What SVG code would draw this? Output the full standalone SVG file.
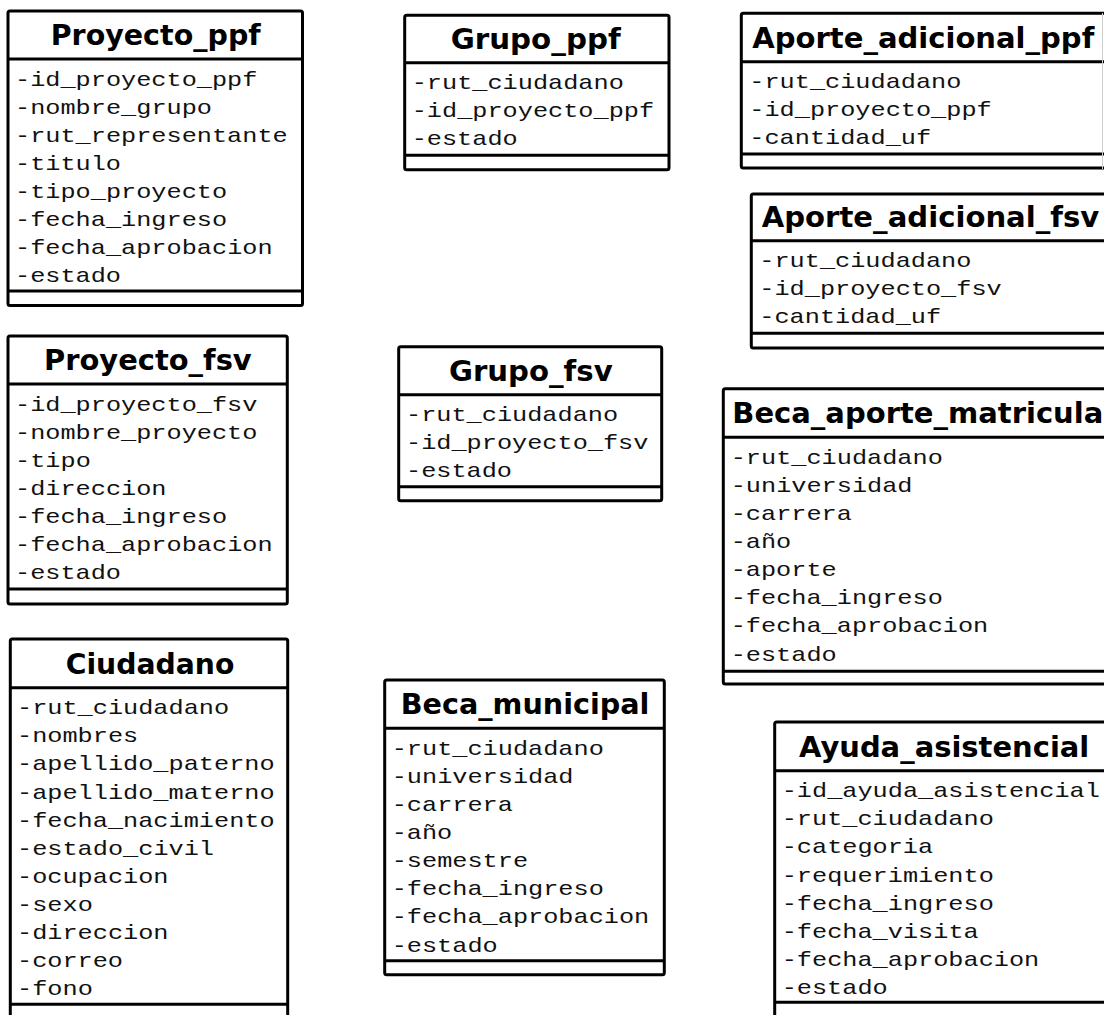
<svg xmlns="http://www.w3.org/2000/svg" width="1104" height="1015" viewBox="0 0 1104 1015">
<style>
.box{fill:#fff;stroke:#000;stroke-width:3}
.dv{stroke:#000;stroke-width:3}
.t{font-family:"DejaVu Sans",Verdana,sans-serif;font-weight:bold;font-size:29px;fill:#000}
.a{font-family:"Liberation Mono","Courier New",monospace;font-size:21px;fill:#111}
</style>
<rect width="1104" height="1015" fill="#fff"/>
<g id="connectors"></g>

<g id="proyecto_ppf">
<rect class="box" x="8" y="11" width="294.5" height="294.5" rx="2"/>
<line class="dv" x1="8" y1="59" x2="302.5" y2="59"/>
<line class="dv" x1="8" y1="291" x2="302.5" y2="291"/>
<text class="t" x="50.7" y="45" textLength="210" lengthAdjust="spacingAndGlyphs">Proyecto_ppf</text>
<text class="a" x="15" y="85.5" textLength="242.4" lengthAdjust="spacingAndGlyphs">-id_proyecto_ppf</text>
<text class="a" x="15" y="113.6" textLength="197" lengthAdjust="spacingAndGlyphs">-nombre_grupo</text>
<text class="a" x="15" y="141.7" textLength="272.7" lengthAdjust="spacingAndGlyphs">-rut_representante</text>
<text class="a" x="15" y="169.8" textLength="106" lengthAdjust="spacingAndGlyphs">-titulo</text>
<text class="a" x="15" y="197.9" textLength="212.1" lengthAdjust="spacingAndGlyphs">-tipo_proyecto</text>
<text class="a" x="15" y="226" textLength="212.1" lengthAdjust="spacingAndGlyphs">-fecha_ingreso</text>
<text class="a" x="15" y="254.1" textLength="257.6" lengthAdjust="spacingAndGlyphs">-fecha_aprobacion</text>
<text class="a" x="15" y="282.2" textLength="106" lengthAdjust="spacingAndGlyphs">-estado</text>
</g>

<g id="grupo_ppf">
<rect class="box" x="404.7" y="15.3" width="264.3" height="154.4" rx="2"/>
<line class="dv" x1="404.7" y1="62.7" x2="669" y2="62.7"/>
<line class="dv" x1="404.7" y1="155.3" x2="669" y2="155.3"/>
<text class="t" x="450.7" y="48.7" textLength="170" lengthAdjust="spacingAndGlyphs">Grupo_ppf</text>
<text class="a" x="411.7" y="89.2" textLength="212.1" lengthAdjust="spacingAndGlyphs">-rut_ciudadano</text>
<text class="a" x="411.7" y="117.3" textLength="242.4" lengthAdjust="spacingAndGlyphs">-id_proyecto_ppf</text>
<text class="a" x="411.7" y="145.4" textLength="106" lengthAdjust="spacingAndGlyphs">-estado</text>
</g>

<g id="aporte_adicional_ppf">
<rect class="box" x="741.3" y="13.3" width="420" height="154.7" rx="2"/>
<line class="dv" x1="741.3" y1="61.7" x2="1161.3" y2="61.7"/>
<line class="dv" x1="741.3" y1="154" x2="1161.3" y2="154"/>
<line x1="1102.5" y1="13" x2="1102.5" y2="169" stroke="#cfcfcf" stroke-width="1"/>
<text class="t" x="752.3" y="47.7" textLength="342" lengthAdjust="spacingAndGlyphs">Aporte_adicional_ppf</text>
<text class="a" x="749.3" y="88.2" textLength="212.1" lengthAdjust="spacingAndGlyphs">-rut_ciudadano</text>
<text class="a" x="749.3" y="116.3" textLength="242.4" lengthAdjust="spacingAndGlyphs">-id_proyecto_ppf</text>
<text class="a" x="749.3" y="144.4" textLength="181.8" lengthAdjust="spacingAndGlyphs">-cantidad_uf</text>
</g>

<g id="aporte_adicional_fsv">
<rect class="box" x="751.3" y="194" width="420" height="154" rx="2"/>
<line class="dv" x1="751.3" y1="240.7" x2="1171.3" y2="240.7"/>
<line class="dv" x1="751.3" y1="333.3" x2="1171.3" y2="333.3"/>
<text class="t" x="761.7" y="226.7" textLength="337.6" lengthAdjust="spacingAndGlyphs">Aporte_adicional_fsv</text>
<text class="a" x="759.3" y="267.2" textLength="212.1" lengthAdjust="spacingAndGlyphs">-rut_ciudadano</text>
<text class="a" x="759.3" y="295.3" textLength="242.4" lengthAdjust="spacingAndGlyphs">-id_proyecto_fsv</text>
<text class="a" x="759.3" y="323.4" textLength="181.8" lengthAdjust="spacingAndGlyphs">-cantidad_uf</text>
</g>

<g id="proyecto_fsv">
<rect class="box" x="8" y="336" width="279.3" height="268" rx="2"/>
<line class="dv" x1="8" y1="384" x2="287.3" y2="384"/>
<line class="dv" x1="8" y1="589" x2="287.3" y2="589"/>
<text class="t" x="44" y="370" textLength="207.7" lengthAdjust="spacingAndGlyphs">Proyecto_fsv</text>
<text class="a" x="15" y="410.5" textLength="242.4" lengthAdjust="spacingAndGlyphs">-id_proyecto_fsv</text>
<text class="a" x="15" y="438.6" textLength="242.4" lengthAdjust="spacingAndGlyphs">-nombre_proyecto</text>
<text class="a" x="15" y="466.7" textLength="75.8" lengthAdjust="spacingAndGlyphs">-tipo</text>
<text class="a" x="15" y="494.8" textLength="151.5" lengthAdjust="spacingAndGlyphs">-direccion</text>
<text class="a" x="15" y="522.9" textLength="212.1" lengthAdjust="spacingAndGlyphs">-fecha_ingreso</text>
<text class="a" x="15" y="551" textLength="257.6" lengthAdjust="spacingAndGlyphs">-fecha_aprobacion</text>
<text class="a" x="15" y="579.1" textLength="106" lengthAdjust="spacingAndGlyphs">-estado</text>
</g>

<g id="grupo_fsv">
<rect class="box" x="398.7" y="346.7" width="263" height="154" rx="2"/>
<line class="dv" x1="398.7" y1="394.7" x2="661.7" y2="394.7"/>
<line class="dv" x1="398.7" y1="486.7" x2="661.7" y2="486.7"/>
<text class="t" x="449" y="380.7" textLength="163.7" lengthAdjust="spacingAndGlyphs">Grupo_fsv</text>
<text class="a" x="406" y="421.2" textLength="212.1" lengthAdjust="spacingAndGlyphs">-rut_ciudadano</text>
<text class="a" x="406" y="449.3" textLength="242.4" lengthAdjust="spacingAndGlyphs">-id_proyecto_fsv</text>
<text class="a" x="406" y="477.4" textLength="106" lengthAdjust="spacingAndGlyphs">-estado</text>
</g>

<g id="beca_aporte_matricula">
<rect class="box" x="723.3" y="388.7" width="440" height="295.3" rx="2"/>
<line class="dv" x1="723.3" y1="437.3" x2="1163.3" y2="437.3"/>
<line class="dv" x1="723.3" y1="671.3" x2="1163.3" y2="671.3"/>
<text class="t" x="732.3" y="423.3" textLength="371" lengthAdjust="spacingAndGlyphs">Beca_aporte_matricula</text>
<text class="a" x="730.7" y="463.8" textLength="212.1" lengthAdjust="spacingAndGlyphs">-rut_ciudadano</text>
<text class="a" x="730.7" y="491.9" textLength="181.8" lengthAdjust="spacingAndGlyphs">-universidad</text>
<text class="a" x="730.7" y="520" textLength="121.2" lengthAdjust="spacingAndGlyphs">-carrera</text>
<text class="a" x="730.7" y="548.1" textLength="60.6" lengthAdjust="spacingAndGlyphs">-año</text>
<text class="a" x="730.7" y="576.2" textLength="106" lengthAdjust="spacingAndGlyphs">-aporte</text>
<text class="a" x="730.7" y="604.3" textLength="212.1" lengthAdjust="spacingAndGlyphs">-fecha_ingreso</text>
<text class="a" x="730.7" y="632.4" textLength="257.6" lengthAdjust="spacingAndGlyphs">-fecha_aprobacion</text>
<text class="a" x="730.7" y="660.5" textLength="106" lengthAdjust="spacingAndGlyphs">-estado</text>
</g>

<g id="ciudadano">
<rect class="box" x="10.3" y="639" width="277.4" height="420" rx="2"/>
<line class="dv" x1="10.3" y1="687.7" x2="287.7" y2="687.7"/>
<line class="dv" x1="10.3" y1="1004.3" x2="287.7" y2="1004.3"/>
<text class="t" x="65.7" y="673.7" textLength="168.7" lengthAdjust="spacingAndGlyphs">Ciudadano</text>
<text class="a" x="17" y="714.2" textLength="212.1" lengthAdjust="spacingAndGlyphs">-rut_ciudadano</text>
<text class="a" x="17" y="742.3" textLength="121.2" lengthAdjust="spacingAndGlyphs">-nombres</text>
<text class="a" x="17" y="770.4" textLength="257.6" lengthAdjust="spacingAndGlyphs">-apellido_paterno</text>
<text class="a" x="17" y="798.5" textLength="257.6" lengthAdjust="spacingAndGlyphs">-apellido_materno</text>
<text class="a" x="17" y="826.6" textLength="257.6" lengthAdjust="spacingAndGlyphs">-fecha_nacimiento</text>
<text class="a" x="17" y="854.7" textLength="197" lengthAdjust="spacingAndGlyphs">-estado_civil</text>
<text class="a" x="17" y="882.8" textLength="151.5" lengthAdjust="spacingAndGlyphs">-ocupacion</text>
<text class="a" x="17" y="910.9" textLength="75.8" lengthAdjust="spacingAndGlyphs">-sexo</text>
<text class="a" x="17" y="939" textLength="151.5" lengthAdjust="spacingAndGlyphs">-direccion</text>
<text class="a" x="17" y="967.1" textLength="106" lengthAdjust="spacingAndGlyphs">-correo</text>
<text class="a" x="17" y="995.2" textLength="75.8" lengthAdjust="spacingAndGlyphs">-fono</text>
</g>

<g id="beca_municipal">
<rect class="box" x="384.7" y="680" width="279.6" height="294.7" rx="2"/>
<line class="dv" x1="384.7" y1="728.3" x2="664.3" y2="728.3"/>
<line class="dv" x1="384.7" y1="960.7" x2="664.3" y2="960.7"/>
<text class="t" x="400.7" y="714.3" textLength="248.7" lengthAdjust="spacingAndGlyphs">Beca_municipal</text>
<text class="a" x="391.7" y="754.8" textLength="212.1" lengthAdjust="spacingAndGlyphs">-rut_ciudadano</text>
<text class="a" x="391.7" y="782.9" textLength="181.8" lengthAdjust="spacingAndGlyphs">-universidad</text>
<text class="a" x="391.7" y="811" textLength="121.2" lengthAdjust="spacingAndGlyphs">-carrera</text>
<text class="a" x="391.7" y="839.1" textLength="60.6" lengthAdjust="spacingAndGlyphs">-año</text>
<text class="a" x="391.7" y="867.2" textLength="136.4" lengthAdjust="spacingAndGlyphs">-semestre</text>
<text class="a" x="391.7" y="895.3" textLength="212.1" lengthAdjust="spacingAndGlyphs">-fecha_ingreso</text>
<text class="a" x="391.7" y="923.4" textLength="257.6" lengthAdjust="spacingAndGlyphs">-fecha_aprobacion</text>
<text class="a" x="391.7" y="951.5" textLength="106" lengthAdjust="spacingAndGlyphs">-estado</text>
</g>

<g id="ayuda_asistencial">
<rect class="box" x="774.7" y="722" width="420" height="420" rx="2"/>
<line class="dv" x1="774.7" y1="770.7" x2="1194.7" y2="770.7"/>
<line class="dv" x1="774.7" y1="1002.3" x2="1194.7" y2="1002.3"/>
<text class="t" x="799" y="756.7" textLength="290.3" lengthAdjust="spacingAndGlyphs">Ayuda_asistencial</text>
<text class="a" x="781.7" y="797.2" textLength="318.2" lengthAdjust="spacingAndGlyphs">-id_ayuda_asistencial</text>
<text class="a" x="781.7" y="825.3" textLength="212.1" lengthAdjust="spacingAndGlyphs">-rut_ciudadano</text>
<text class="a" x="781.7" y="853.4" textLength="151.5" lengthAdjust="spacingAndGlyphs">-categoria</text>
<text class="a" x="781.7" y="881.5" textLength="212.1" lengthAdjust="spacingAndGlyphs">-requerimiento</text>
<text class="a" x="781.7" y="909.6" textLength="212.1" lengthAdjust="spacingAndGlyphs">-fecha_ingreso</text>
<text class="a" x="781.7" y="937.7" textLength="197" lengthAdjust="spacingAndGlyphs">-fecha_visita</text>
<text class="a" x="781.7" y="965.8" textLength="257.6" lengthAdjust="spacingAndGlyphs">-fecha_aprobacion</text>
<text class="a" x="781.7" y="993.9" textLength="106" lengthAdjust="spacingAndGlyphs">-estado</text>
</g>
</svg>
